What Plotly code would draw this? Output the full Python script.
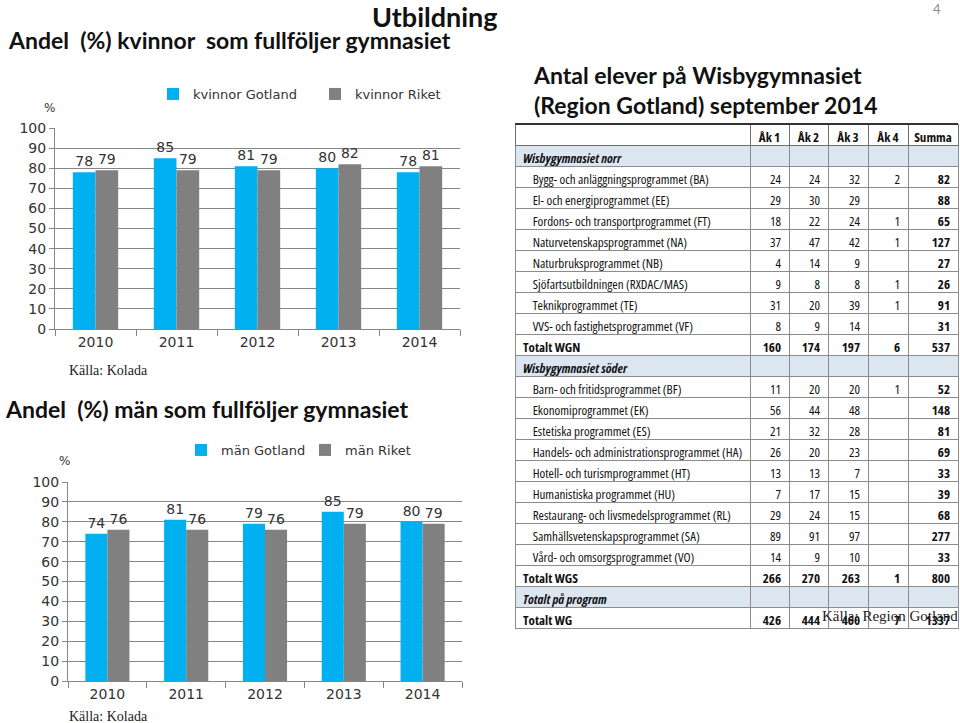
import plotly.graph_objects as go

W, H = 960, 723

# ---------------- data ----------------
years = ["2010", "2011", "2012", "2013", "2014"]
kvinnor_gotland = [78, 85, 81, 80, 78]
kvinnor_riket = [79, 79, 79, 82, 81]
man_gotland = [74, 81, 79, 85, 80]
man_riket = [76, 76, 76, 79, 79]
y_ticks = [0, 10, 20, 30, 40, 50, 60, 70, 80, 90, 100]

table_header = ["", "Åk 1", "Åk 2", "Åk 3", "Åk 4", "Summa"]
row_labels = [
    "Wisbygymnasiet norr",
    "Bygg- och anläggningsprogrammet (BA)",
    "El- och energiprogrammet (EE)",
    "Fordons- och transportprogrammet (FT)",
    "Naturvetenskapsprogrammet (NA)",
    "Naturbruksprogrammet (NB)",
    "Sjöfartsutbildningen (RXDAC/MAS)",
    "Teknikprogrammet (TE)",
    "VVS- och fastighetsprogrammet (VF)",
    "Totalt WGN",
    "Wisbygymnasiet söder",
    "Barn- och fritidsprogrammet (BF)",
    "Ekonomiprogrammet (EK)",
    "Estetiska programmet (ES)",
    "Handels- och administrationsprogrammet (HA)",
    "Hotell- och turismprogrammet (HT)",
    "Humanistiska programmet (HU)",
    "Restaurang- och livsmedelsprogrammet (RL)",
    "Samhällsvetenskapsprogrammet (SA)",
    "Vård- och omsorgsprogrammet (VO)",
    "Totalt WGS",
    "Totalt på program",
    "Totalt WG",
]
row_kind = (["section"] + ["program"] * 8 + ["total"] + ["section"] + ["program"] * 9
            + ["total"] + ["section"] + ["total"])
ak1 = ["", 24, 29, 18, 37, 4, 9, 31, 8, 160, "", 11, 56, 21, 26, 13, 7, 29, 89, 14, 266, "", 426]
ak2 = ["", 24, 30, 22, 47, 14, 8, 20, 9, 174, "", 20, 44, 32, 20, 13, 17, 24, 91, 9, 270, "", 444]
ak3 = ["", 32, 29, 24, 42, 9, 8, 39, 14, 197, "", 20, 48, 28, 23, 7, 15, 15, 97, 10, 263, "", 460]
ak4 = ["", 2, "", 1, 1, "", 1, 1, "", 6, "", 1, "", "", "", "", "", "", "", "", 1, "", 7]
summa = ["", 82, 88, 65, 127, 27, 26, 91, 31, 537, "", 52, 148, 81, 69, 33, 39, 68, 277, 33, 800, "", 1337]

# ---------------- styles ----------------
C_GOT = "#00B0F0"
C_RIK = "#808080"
GRID = "#868686"
TXT = "#333333"
TICKFONT = dict(family="DejaVu Sans", size=14, color=TXT)
TITLEFONT = "Lato, 'Open Sans', sans-serif"
SERIF = "'Liberation Serif', 'DejaVu Serif', serif"
TABLEFONT = "'Open Sans', 'Noto Sans', sans-serif"
NB = "\u00a0"
CLEAR = "rgba(0,0,0,0)"


def px(x):
    return x / W


def py(y):
    return 1 - y / H


fig = go.Figure()


def add_bars(xa, ya, legend, names, vals):
    for name, v, c in zip(names, vals, [C_GOT, C_RIK]):
        fig.add_trace(go.Bar(
            x=years, y=v, name=name, marker=dict(color=c, line=dict(width=0)),
            text=v, textposition="outside", cliponaxis=False,
            textfont=dict(family="DejaVu Sans", size=14, color=TXT),
            xaxis=xa, yaxis=ya, legend=legend, hoverinfo="skip",
        ))


add_bars("x", "y", "legend", ["kvinnor Gotland", "kvinnor Riket"], [kvinnor_gotland, kvinnor_riket])
add_bars("x2", "y2", "legend2", ["män Gotland", "män Riket"], [man_gotland, man_riket])

# ---------------- table (base + bold overlays) ----------------
labels_nb = [(l if k != "program" else NB * 4 + l).replace(" ", NB) for l, k in zip(row_labels, row_kind)]
num_cols = [[str(v) for v in c] for c in [ak1, ak2, ak3, ak4, summa]]
all_cols = [labels_nb] + num_cols


def only(kind):
    return [[v if k == kind else "" for v, k in zip(col, row_kind)] for col in all_cols]


fills = [["#DCE6F1" if k == "section" else "white" for k in row_kind]] * 6
TDOM = dict(x=[px(515), px(958)], y=[py(632), py(124)])
CW = [235, 39, 39, 40, 40, 50]
ALIGN = ["left", "right", "right", "right", "right", "right"]

fig.add_trace(go.Table(
    domain=TDOM, columnwidth=CW,
    header=dict(
        values=[h.replace(" ", NB) for h in table_header],
        align=["left", "center", "center", "center", "center", "center"],
        height=21, fill=dict(color="white"),
        line=dict(color="#6f6f6f", width=1),
        font=dict(family=TABLEFONT, size=13, color="#111111", weight="bold"),
    ),
    cells=dict(
        values=only("program"), align=ALIGN, height=21, fill=dict(color=fills),
        line=dict(color="#8c8c8c", width=1),
        font=dict(family=TABLEFONT, size=13, color="#111111",
                  weight=["normal", "normal", "normal", "normal", "normal", "bold"]),
    ),
))
for kind, style in [("total", "normal"), ("section", "italic")]:
    fig.add_trace(go.Table(
        domain=TDOM, columnwidth=CW,
        header=dict(values=[""] * 6, height=21, fill=dict(color=CLEAR), line=dict(color=CLEAR, width=0),
                    font=dict(family=TABLEFONT, size=13)),
        cells=dict(
            values=only(kind), align=ALIGN, height=21, fill=dict(color=CLEAR),
            line=dict(color=CLEAR, width=0),
            font=dict(family=TABLEFONT, size=13, color="#111111", weight="bold", style=style),
        ),
    ))

# ---------------- axes ----------------
xcommon = dict(type="category", showline=True, linecolor=GRID, linewidth=1,
               ticks="outside", tickson="boundaries", ticklen=6, tickcolor=GRID,
               tickfont=TICKFONT, showgrid=False, fixedrange=True, automargin=False)
ycommon = dict(range=[0, 100], tickvals=y_ticks, showline=True, linecolor=GRID, linewidth=1,
               ticks="outside", ticklen=5, tickcolor=GRID, gridcolor=GRID, gridwidth=1,
               zeroline=False, tickfont=TICKFONT, fixedrange=True, automargin=False)

fig.update_layout(
    width=W, height=H, autosize=False,
    margin=dict(l=0, r=0, t=0, b=0, pad=0, autoexpand=False),
    paper_bgcolor="white", plot_bgcolor="white",
    barmode="group", bargap=0.44, bargroupgap=0,
    xaxis=dict(domain=[px(55), px(460)], anchor="y", **xcommon),
    yaxis=dict(domain=[py(329), py(128)], anchor="x", **ycommon),
    xaxis2=dict(domain=[px(68), px(462)], anchor="y2", **xcommon),
    yaxis2=dict(domain=[py(681), py(482)], anchor="x2", **ycommon),
    legend=dict(orientation="h", x=px(153), y=py(94), xanchor="left", yanchor="middle",
                entrywidth=117, entrywidthmode="pixels", bgcolor="rgba(0,0,0,0)",
                font=dict(family="DejaVu Sans", size=13, color=TXT), traceorder="normal"),
    legend2=dict(orientation="h", x=px(181), y=py(450), xanchor="left", yanchor="middle",
                 entrywidth=79, entrywidthmode="pixels", bgcolor="rgba(0,0,0,0)",
                 font=dict(family="DejaVu Sans", size=13, color=TXT), traceorder="normal"),
    showlegend=True,
)

ann = [
    dict(text="Utbildning", x=px(435), y=py(16), xanchor="center", yanchor="middle",
         font=dict(family=TITLEFONT, size=27, color="#111111", weight="bold")),
    dict(text="Andel\u00a0 (%) kvinnor\u00a0 som fullföljer gymnasiet", x=px(6), y=py(40),
         xanchor="left", yanchor="middle",
         font=dict(family=TITLEFONT, size=23, color="#111111", weight="bold")),
    dict(text="Andel\u00a0 (%) män som fullföljer gymnasiet", x=px(3), y=py(409),
         xanchor="left", yanchor="middle",
         font=dict(family=TITLEFONT, size=23, color="#111111", weight="bold")),
    dict(text="Antal elever på Wisbygymnasiet<br>(Region Gotland) september 2014", x=px(531), y=py(90),
         xanchor="left", yanchor="middle", align="left",
         font=dict(family=TITLEFONT, size=23, color="#111111", weight="bold")),
    dict(text="4", x=px(937), y=py(9), xanchor="center", yanchor="middle",
         font=dict(family="Lato", size=13, color="#8c8c8c")),
    dict(text="%", x=px(49), y=py(108), xanchor="center", yanchor="middle",
         font=dict(family="DejaVu Sans", size=12, color=TXT)),
    dict(text="%", x=px(64), y=py(461), xanchor="center", yanchor="middle",
         font=dict(family="DejaVu Sans", size=12, color=TXT)),
    dict(text="Källa: Kolada", x=px(67), y=py(371), xanchor="left", yanchor="middle",
         font=dict(family=SERIF, size=14, color="#222222")),
    dict(text="Källa: Kolada", x=px(67), y=py(716), xanchor="left", yanchor="middle",
         font=dict(family=SERIF, size=14, color="#222222")),
    dict(text="Källa: Region Gotland", x=px(820), y=py(616), xanchor="left", yanchor="middle",
         font=dict(family=SERIF, size=15, color="#222222")),
]
for a in ann:
    a.update(xref="paper", yref="paper", showarrow=False)
fig.update_layout(annotations=ann)

fig.add_shape(type="line", xref="paper", yref="paper", x0=px(515), x1=px(958),
              y0=py(124), y1=py(124), line=dict(color="#333333", width=2))

post = (
    "document.body.style.margin='0';document.body.style.overflow='hidden';"
    "var st=document.createElement('style');"
    "st.textContent='.table text, text.cell-text{font-stretch:condensed;}';"
    "document.head.appendChild(st);"
)
fig.write_html("out.html", post_script=post, config={"displayModeBar": False})
